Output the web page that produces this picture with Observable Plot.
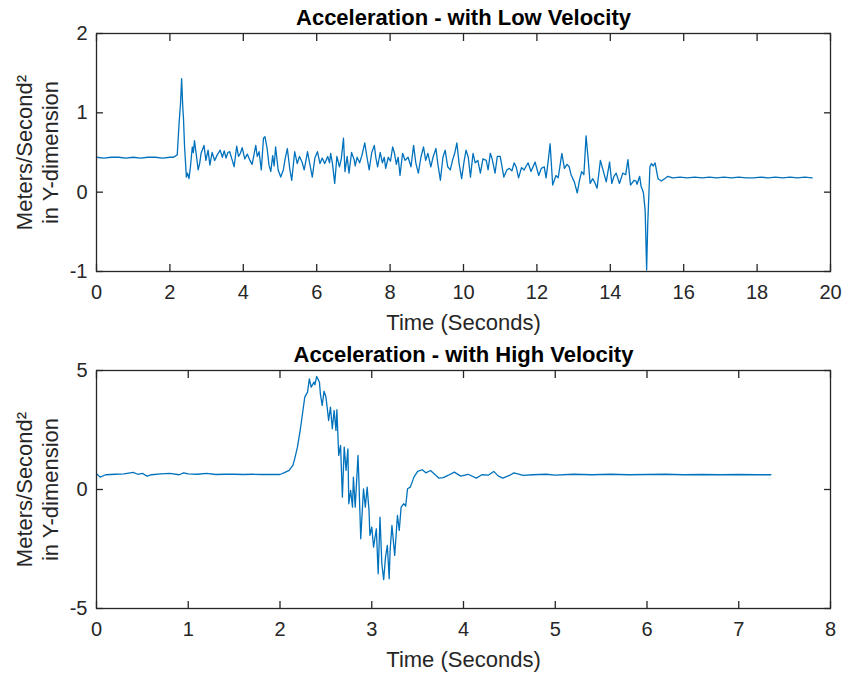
<!DOCTYPE html>
<html>
<head>
<meta charset="utf-8">
<script src="https://cdn.jsdelivr.net/npm/d3@7"></script>
<script src="https://cdn.jsdelivr.net/npm/@observablehq/plot@0.6"></script>
<style>
  html, body { margin: 0; padding: 0; background: #fff; }
  #chart { width: 843px; height: 675px; }
  #chart svg { display: block; }
</style>
</head>
<body>
<div id="chart"></div>
<script>
// ---- Data ----
const titleLow = "Acceleration - with Low Velocity";
const titleHigh = "Acceleration - with High Velocity";
const xLabel = "Time (Seconds)";
const yLabel = "Meters/Second\u00B2\nin Y-dimension";

const lowTime = [
  0.0,0.2,0.4,0.6,0.8,1.0,1.2,1.4,1.6,1.8,2.0,2.1,2.2,2.25,2.29,2.32,2.35,2.37,2.40,2.45,2.48,2.52,2.56,2.61,2.64,2.67,2.72,2.77,2.81,2.85,2.93,2.98,
  3.04,3.09,3.15,3.22,3.29,3.37,3.43,3.48,3.53,3.58,3.63,3.70,3.75,3.82,3.87,3.92,3.97,4.04,4.11,4.18,4.24,4.34,4.38,4.43,4.49,4.55,4.59,4.65,4.70,4.75,4.80,4.84,4.88,4.95,
  5.02,5.09,5.14,5.20,5.27,5.32,5.40,5.47,5.53,5.60,5.66,5.75,5.81,5.88,5.95,6.02,6.09,6.15,6.22,6.30,6.35,6.38,6.43,6.49,6.55,6.62,6.67,6.73,6.77,6.83,6.88,6.95,
  7.02,7.05,7.10,7.17,7.23,7.31,7.37,7.43,7.50,7.57,7.61,7.66,7.73,7.79,7.84,7.88,7.95,8.01,8.07,8.12,8.17,8.22,8.27,8.34,8.41,8.49,8.57,8.64,8.70,8.77,8.84,8.91,8.97,
  9.03,9.11,9.17,9.25,9.30,9.37,9.44,9.50,9.57,9.64,9.70,9.76,9.82,9.88,9.95,10.02,10.07,10.13,10.19,10.26,10.32,10.39,10.46,10.53,10.62,10.67,10.73,10.78,10.86,10.92,
  11.0,11.1,11.18,11.25,11.32,11.38,11.44,11.5,11.58,11.65,11.71,11.76,11.84,11.95,12.05,12.12,12.2,12.25,12.31,12.36,12.43,12.52,12.58,12.68,12.75,12.82,12.88,12.93,
  13.02,13.1,13.16,13.22,13.28,13.34,13.4,13.45,13.52,13.58,13.64,13.73,13.79,13.89,13.98,14.04,14.1,14.16,14.25,14.34,14.42,14.48,14.55,14.65,14.7,14.73,14.8,14.84,14.9,14.95,14.99,
  15.02,15.08,15.12,15.17,15.22,15.3,15.39,15.48,15.57,15.7,15.9,16.1,16.3,16.5,16.7,16.9,17.1,17.3,17.5,17.7,17.9,18.1,18.3,18.5,18.7,18.9,19.1,19.3,19.5
];
const lowAccel = [
  0.44,0.43,0.44,0.44,0.43,0.44,0.43,0.44,0.44,0.43,0.44,0.44,0.47,0.87,1.12,1.43,1.08,0.93,0.57,0.19,0.24,0.17,0.32,0.57,0.50,0.65,0.47,0.28,0.36,0.49,0.59,0.40,
  0.53,0.34,0.50,0.40,0.47,0.53,0.44,0.52,0.43,0.50,0.51,0.40,0.32,0.58,0.45,0.49,0.56,0.42,0.48,0.40,0.35,0.59,0.45,0.51,0.28,0.68,0.70,0.55,0.34,0.26,0.46,0.33,0.57,0.28,
  0.19,0.28,0.42,0.55,0.28,0.15,0.51,0.36,0.45,0.38,0.28,0.51,0.36,0.19,0.43,0.51,0.36,0.43,0.36,0.45,0.37,0.49,0.36,0.11,0.45,0.32,0.42,0.68,0.26,0.45,0.24,0.50,
  0.41,0.33,0.44,0.37,0.46,0.62,0.44,0.28,0.50,0.59,0.44,0.32,0.50,0.37,0.44,0.30,0.44,0.39,0.57,0.49,0.35,0.44,0.21,0.49,0.40,0.44,0.32,0.59,0.37,0.24,0.44,0.57,0.40,
  0.49,0.32,0.44,0.55,0.36,0.15,0.44,0.53,0.32,0.28,0.40,0.49,0.62,0.36,0.17,0.40,0.53,0.44,0.19,0.49,0.37,0.40,0.24,0.42,0.40,0.28,0.49,0.42,0.24,0.45,
  0.45,0.19,0.28,0.30,0.27,0.37,0.31,0.18,0.31,0.28,0.33,0.37,0.26,0.38,0.21,0.30,0.32,0.18,0.40,0.61,0.09,0.21,0.18,0.49,0.30,0.35,0.32,0.22,
  0.13,-0.01,0.15,0.26,0.22,0.71,0.40,0.11,0.17,0.12,0.05,0.40,0.30,0.13,0.38,0.11,0.20,0.24,0.11,0.24,0.22,0.41,0.09,0.15,0.14,0.10,0.20,0.07,0.0,-0.23,-0.98,
  -0.40,0.32,0.36,0.33,0.37,0.17,0.14,0.17,0.20,0.18,0.19,0.18,0.19,0.18,0.19,0.18,0.19,0.18,0.19,0.18,0.18,0.19,0.18,0.19,0.18,0.19,0.18,0.19,0.18
];

const highTime = [
  0.0,0.04,0.1,0.2,0.3,0.4,0.45,0.5,0.55,0.6,0.7,0.8,0.9,0.95,1.0,1.1,1.2,1.3,1.4,1.5,1.6,1.7,1.8,1.9,2.0,2.06,2.1,2.14,2.16,2.19,2.22,2.25,2.27,2.3,2.32,2.34,2.37,2.38,2.4,2.43,2.44,2.46,2.48,2.5,
  2.52,2.53,2.55,2.57,2.59,2.61,2.62,2.64,2.66,2.68,2.70,2.72,2.74,2.75,2.77,2.79,2.80,2.82,2.85,2.86,2.88,2.91,2.93,2.95,2.97,2.98,3.00,3.02,3.05,3.07,3.09,3.11,3.13,3.15,3.17,3.19,
  3.20,3.22,3.25,3.28,3.30,3.32,3.35,3.37,3.39,3.42,3.46,3.5,3.55,3.59,3.64,3.68,3.73,3.78,3.83,3.9,3.97,4.05,4.14,4.2,4.27,4.33,4.38,4.43,4.5,4.55,4.65,4.75,4.9,
  5.0,5.2,5.4,5.6,5.8,6.0,6.2,6.4,6.6,6.8,7.0,7.2,7.35
];
const highAccel = [
  0.66,0.52,0.62,0.64,0.66,0.72,0.64,0.68,0.56,0.62,0.66,0.68,0.62,0.70,0.66,0.64,0.68,0.63,0.64,0.64,0.63,0.64,0.63,0.63,0.63,0.73,0.80,1.01,1.29,1.78,2.48,3.32,3.88,4.09,4.65,4.30,4.51,4.40,4.75,4.51,4.02,3.53,4.13,3.90,
  3.25,2.90,3.46,2.55,3.32,2.48,3.35,1.43,1.85,-0.32,1.78,0.80,1.71,-0.60,-0.04,-0.74,0.52,-0.74,1.43,0.38,-2.07,0.03,-0.74,0.10,-0.88,-1.93,-1.58,-2.42,-1.65,-3.54,-1.16,-3.12,-3.79,-2.84,-2.35,-3.75,
  -2.56,-1.51,-2.77,-1.09,-1.72,-0.74,-0.60,-0.70,0.03,0.10,0.52,0.76,0.83,0.70,0.80,0.66,0.48,0.50,0.59,0.73,0.56,0.64,0.48,0.62,0.60,0.76,0.56,0.48,0.59,0.70,0.59,0.62,0.64,
  0.60,0.64,0.62,0.64,0.62,0.63,0.64,0.62,0.63,0.62,0.63,0.62,0.62
];

const lowXTicks = [0,2,4,6,8,10,12,14,16,18,20];
const lowYTicks = [-1,0,1,2];
const highXTicks = [0,1,2,3,4,5,6,7,8];
const highYTicks = [-5,0,5];

const lowData = lowTime.map((t, i) => ({t, a: lowAccel[i]}));
const highData = highTime.map((t, i) => ({t, a: highAccel[i]}));

const INK = "#262626";
const LINE = "#0072BD";
const FONT = "'Liberation Sans', Arial, Helvetica, sans-serif";
const fmt = d => String(d);

function panel({data, title, xDomain, yDomain, xTicks, yTicks, height, marginTop, marginBottom}) {
  const tick = 7;
  return Plot.plot({
    width: 843,
    height,
    marginLeft: 96,
    marginRight: 13,
    marginTop,
    marginBottom,
    style: {fontFamily: FONT, fontSize: "20px", color: INK, background: "white", overflow: "visible"},
    x: {domain: xDomain, label: null},
    y: {domain: yDomain, label: null},
    marks: [
      Plot.line(data, {x: "t", y: "a", stroke: LINE, strokeWidth: 1.3}),
      Plot.axisX(xTicks, {anchor: "bottom", tickSize: -tick, tickPadding: tick + 13, tickFormat: fmt, label: null, strokeWidth: 1.3, fontSize: 20}),
      Plot.axisX(xTicks, {anchor: "top", tickSize: -tick, fill: "none", label: null, strokeWidth: 1.3}),
      Plot.axisY(yTicks, {anchor: "left", tickSize: -tick, tickPadding: tick + 9, tickFormat: fmt, label: null, strokeWidth: 1.3, fontSize: 20}),
      Plot.axisY(yTicks, {anchor: "right", tickSize: -tick, fill: "none", label: null, strokeWidth: 1.3}),
      Plot.frame({stroke: INK, strokeWidth: 1.3}),
      Plot.text([title], {frameAnchor: "top", dy: -16, fontWeight: "bold", fontSize: 22, lineAnchor: "middle", fill: "black"}),
      Plot.text([xLabel], {frameAnchor: "bottom", dy: 51, fontSize: 22, lineAnchor: "middle", fill: INK}),
      Plot.text([yLabel], {frameAnchor: "left", textAnchor: "middle", dx: -60, rotate: -90, fontSize: 22, lineAnchor: "middle", lineHeight: 1.2, fill: INK})
    ]
  });
}

const chart = document.getElementById("chart");
chart.append(panel({
  data: lowData, title: titleLow, xDomain: [0, 20], yDomain: [-1, 2],
  xTicks: lowXTicks, yTicks: lowYTicks, height: 331, marginTop: 33, marginBottom: 60
}));
chart.append(panel({
  data: highData, title: titleHigh, xDomain: [0, 8], yDomain: [-5, 5],
  xTicks: highXTicks, yTicks: highYTicks, height: 344, marginTop: 39, marginBottom: 67
}));
</script>
</body>
</html>
